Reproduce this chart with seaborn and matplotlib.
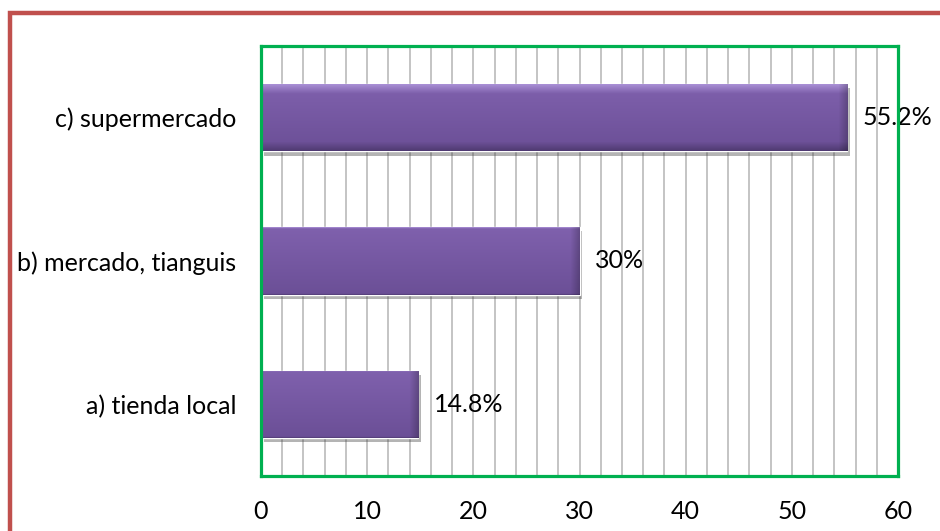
import matplotlib
matplotlib.use('Agg')

import matplotlib.pyplot as plt
import matplotlib.patheffects as pe
from matplotlib.patches import Rectangle
from matplotlib.ticker import MultipleLocator
import seaborn as sns
import pandas as pd
import numpy as np

# Data
categories = ['c) supermercado', 'b) mercado, tianguis', 'a) tienda local']
values = [55.2, 30, 14.8]
value_labels = ['55.2%', '30%', '14.8%']
x_ticks = [0, 10, 20, 30, 40, 50, 60]

PURPLE = '#7B5CA8'
GREEN = '#00B050'
RED = '#C0504D'

sns.set_theme(style='white')
plt.rcParams['font.family'] = ['Lato', 'DejaVu Sans']

fig = plt.figure(figsize=(9.4, 5.31), dpi=100, facecolor='white')
ax = fig.add_axes([261 / 940, 1 - 476 / 531, (898 - 261) / 940, (476 - 46) / 531])

df = pd.DataFrame({'lugar': categories, 'pct': values})
sns.barplot(data=df, x='pct', y='lugar', orient='h', color=PURPLE,
            width=0.47, saturation=1, ax=ax, zorder=3)

ax.set_xlim(0, 60)
ylim = ax.get_ylim()

# bevel-like gradient fill on each bar, plus a soft drop shadow
fig.canvas.draw()
top_col = np.array([0.68, 0.58, 0.85])
mid_col = np.array([0.50, 0.38, 0.68])
low_col = np.array([0.42, 0.31, 0.59])
edge_col = np.array([0.30, 0.22, 0.43])
for patch in ax.patches:
    x0, y0 = patch.get_x(), patch.get_y()
    w, h = patch.get_width(), patch.get_height()
    bb = patch.get_window_extent()
    pw, ph = max(int(bb.width), 2), max(int(bb.height), 2)
    t = np.linspace(0, 1, ph)[:, None, None]
    img = (mid_col + (low_col - mid_col) * t) * np.ones((1, pw, 1))
    bevel = 10
    ramp = (np.arange(bevel) / bevel)[:, None, None]
    img[:bevel] = top_col + (img[bevel:bevel + 1] - top_col) * ramp
    img[-bevel:] = img[-bevel - 1:-bevel] + (edge_col - img[-bevel - 1:-bevel]) * ramp
    side = np.linspace(1.0, 0.78, bevel)[None, :, None]
    img[:, -bevel:] = img[:, -bevel:] * side
    img = np.clip(img, 0, 1)
    im = ax.imshow(img, extent=[x0, x0 + w, y0 + h, y0], origin='upper',
                   aspect='auto', zorder=4, interpolation='bilinear')
    im.set_clip_path(patch)
    patch.set_path_effects([pe.SimplePatchShadow(offset=(2, -3), shadow_rgbFace='#444444', alpha=0.4),
                            pe.Normal()])

ax.set_xlim(0, 60)
ax.set_ylim(ylim)

for i, (v, lab) in enumerate(zip(values, value_labels)):
    ax.text(v + 1.5, i, lab, va='center', ha='left', fontsize=18, color='black', zorder=6)

ax.set_xticks(x_ticks)
ax.xaxis.set_minor_locator(MultipleLocator(2))
ax.grid(which='both', axis='x', color='#BFBFBF', lw=1.3, zorder=0)
ax.grid(axis='y', visible=False)
ax.set_axisbelow(True)
ax.tick_params(axis='both', which='both', length=0, labelsize=18, colors='black')
ax.tick_params(axis='x', pad=17)
ax.tick_params(axis='y', pad=18)
ax.set_xlabel('')
ax.set_ylabel('')

for s in ax.spines.values():
    s.set_color(GREEN)
    s.set_linewidth(2.3)
    s.set_zorder(7)

# outer red frame (runs off the right and bottom edges)
fig.patches.append(Rectangle((10 / 940, -0.2), 1.3, 1 - 13 / 531 + 0.2,
                             transform=fig.transFigure, fill=False,
                             edgecolor=RED, lw=3.2))

plt.savefig('out.png', dpi=100, facecolor='white')
plt.close()
